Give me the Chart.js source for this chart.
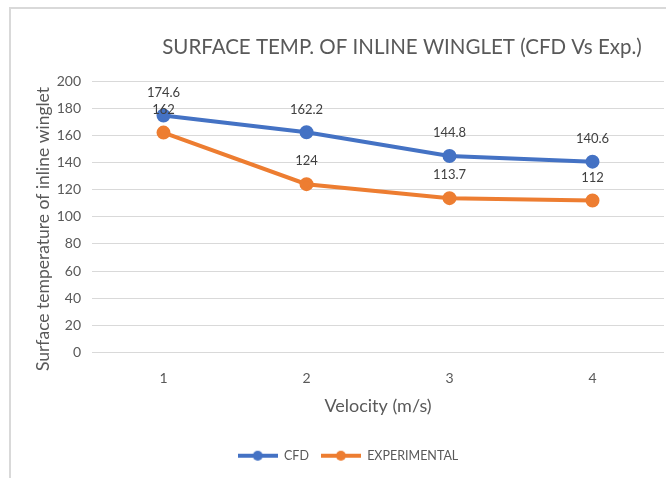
<!DOCTYPE html>
<html>
<head>
<meta charset="utf-8">
<script src="https://cdn.jsdelivr.net/npm/chart.js@4.4.1/dist/chart.umd.min.js"></script>
<style>
  html, body { margin: 0; padding: 0; background: #fff; overflow: hidden; }
  #frame { position: absolute; left: 9px; top: 7px; width: 655px; height: 469px;
           border-top: 2px solid #d9d9d9; border-left: 2px solid #d9d9d9; }
  #wrap { position: absolute; left: 0; top: 0; width: 666px; height: 478px; }
</style>
</head>
<body>
<div id="frame"></div>
<div id="wrap"><canvas id="tempChart" width="666" height="478"></canvas></div>
<script>
const velocities = ['1', '2', '3', '4'];
const cfdTemps = [174.6, 162.2, 144.8, 140.6];
const expTemps = [162, 124, 113.7, 112];
const titleText = 'SURFACE TEMP. OF INLINE WINGLET (CFD Vs Exp.)';
const yTitleText = 'Surface temperature of inline winglet';
const fontFamily = 'Lato, "Open Sans", sans-serif';
const textGrey = '#595959';

// small legend symbol: line with a dot in the middle
function legendSymbol(color) {
  let c = document.createElement('canvas');
  c.width = 40; c.height = 12;
  let g = c.getContext('2d');
  g.strokeStyle = color; g.lineWidth = 4;
  g.beginPath(); g.moveTo(0, 6); g.lineTo(40, 6); g.stroke();
  g.fillStyle = color;
  g.beginPath(); g.arc(20, 6, 5, 0, Math.PI * 2); g.fill();
  return c;
}

// value labels drawn above each point
const valueLabels = {
  id: 'valueLabels',
  afterDatasetsDraw(chart) {
    let ctx = chart.ctx;
    ctx.save();
    ctx.font = '13px ' + fontFamily;
    ctx.fillStyle = '#404040';
    ctx.textAlign = 'center';
    ctx.textBaseline = 'middle';
    chart.data.datasets.forEach(function(ds, i) {
      chart.getDatasetMeta(i).data.forEach(function(pt, j) {
        ctx.fillText(String(ds.data[j]), pt.x, pt.y - 23);
      });
    });
    ctx.restore();
  }
};

// chart title (a bit right of centre) and the rotated y axis title
const chartTitles = {
  id: 'chartTitles',
  afterDraw(chart) {
    let ctx = chart.ctx;
    ctx.save();
    ctx.fillStyle = textGrey;
    ctx.textAlign = 'center';
    ctx.textBaseline = 'middle';
    ctx.font = '20.5px ' + fontFamily;
    ctx.fillText(titleText, 402, 47);
    ctx.translate(43, 229);
    ctx.rotate(-Math.PI / 2);
    ctx.font = '17.5px ' + fontFamily;
    ctx.fillText(yTitleText, 0, 0);
    ctx.restore();
  }
};

new Chart('tempChart', {
  type: 'line',
  data: {
    labels: velocities,
    datasets: [{
      label: 'CFD',
      data: cfdTemps,
      borderColor: '#4472C4',
      backgroundColor: '#4472C4',
      borderWidth: 4,
      pointRadius: 5,
      pointHoverRadius: 5,
      tension: 0
    }, {
      label: 'EXPERIMENTAL',
      data: expTemps,
      borderColor: '#ED7D31',
      backgroundColor: '#ED7D31',
      borderWidth: 4,
      pointRadius: 5,
      pointHoverRadius: 5,
      tension: 0
    }]
  },
  options: {
    responsive: false,
    animation: false,
    layout: { autoPadding: false, padding: { left: 32, right: 2, top: 81, bottom: 6 } },
    plugins: {
      title: { display: false },
      tooltip: { enabled: false },
      legend: {
        position: 'bottom',
        labels: {
          color: textGrey,
          font: { family: fontFamily, size: 12.5 },
          usePointStyle: true,
          pointStyleWidth: 40,
          padding: 12,
          generateLabels(chart) {
            return chart.data.datasets.map(function(ds, i) {
              return {
                text: ds.label,
                pointStyle: legendSymbol(ds.borderColor),
                fillStyle: ds.borderColor,
                strokeStyle: ds.borderColor,
                lineWidth: 0,
                fontColor: textGrey,
                datasetIndex: i
              };
            });
          }
        }
      }
    },
    scales: {
      x: {
        offset: true,
        grid: { display: false },
        border: { display: false },
        ticks: { color: textGrey, font: { family: fontFamily, size: 14 }, padding: 10 },
        title: { display: true, text: 'Velocity (m/s)', color: textGrey,
                 font: { family: fontFamily, size: 18 }, padding: { top: 0, bottom: 21 } },
        afterFit(scale) {
          scale.height = 85;
          scale.paddingLeft = 0;
          scale.paddingRight = 0;
        }
      },
      y: {
        min: 0, max: 200,
        grid: { color: '#d9d9d9', drawTicks: false },
        border: { display: false },
        ticks: { stepSize: 20, color: textGrey, font: { family: fontFamily, size: 14 }, padding: 11 },
        afterFit(scale) { scale.width = 60; }
      }
    }
  },
  plugins: [valueLabels, chartTitles]
});
</script>
</body>
</html>
